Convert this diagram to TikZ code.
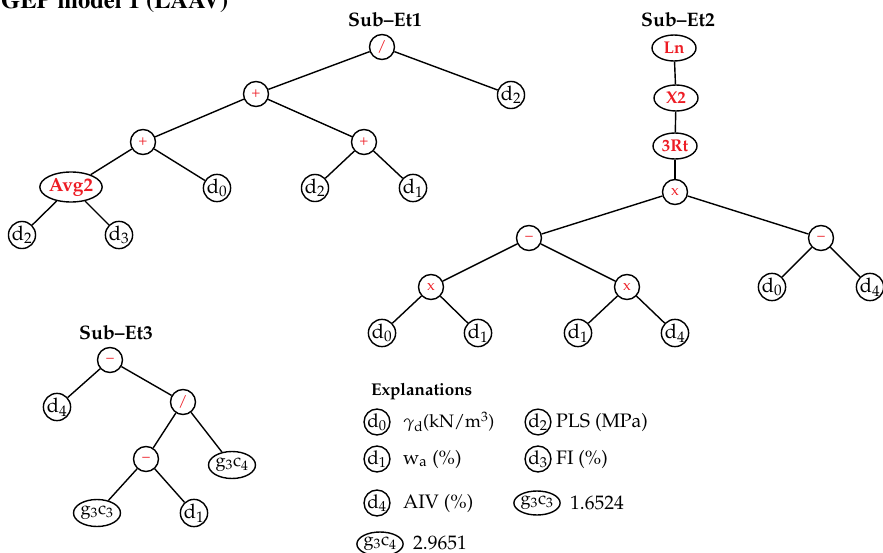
\documentclass[tikz,border=0pt]{standalone}
\usepackage[T1]{fontenc}
\usepackage{mathpazo}
\usetikzlibrary{shapes.geometric}
\definecolor{opred}{RGB}{237,28,36}
\tikzset{
  conn/.style={line width=1.4pt},
  leaf/.style={circle,draw,line width=1.4pt,inner sep=0pt,minimum size=25pt,font=\fontsize{20}{20}\selectfont},
  sleaf/.style={leaf,minimum size=23pt,font=\fontsize{19}{19}\selectfont},
  op/.style={circle,draw,line width=1.4pt,inner sep=0pt,minimum size=25pt,text=opred,font=\fontsize{15}{15}\selectfont},
  fn/.style={ellipse,draw,line width=1.4pt,inner sep=0pt,minimum width=44pt,minimum height=26pt,text=opred,font=\fontsize{17}{17}\selectfont\bfseries},
  cst/.style={ellipse,draw,line width=1.4pt,inner sep=0pt,minimum width=47pt,minimum height=27pt,font=\fontsize{18}{18}\selectfont},
  lab/.style={font=\fontsize{19.5}{19.5}\selectfont\bfseries},
  expl/.style={anchor=west,inner sep=0pt,font=\fontsize{19.5}{19.5}\selectfont},
}
\begin{document}
\begin{tikzpicture}[x=1pt,y=-1pt]
\useasboundingbox (0,0) rectangle (883,553);
% title
\node[anchor=base west,inner sep=0pt,font=\fontfamily{ptm}\fontsize{24.5}{24.5}\selectfont\bfseries] (title) at (1,9) {GEP model 1 (LAAV)};
% Sub-Et1
\node[lab] (t1) at (385,20) {Sub--Et1};
\node[op] (a1) at (382,47) {/};
\node[op] (a2) at (256,94) {+};
\node[leaf] (a3) at (511,95) {d$_2$};
\node[op] (a4) at (143,142) {+};
\node[op] (a5) at (364,142) {+};
\node[fn,minimum width=42pt,minimum height=30pt,font=\fontsize{19}{19}\selectfont\bfseries] (a6) at (71,187) {Avg2};
\node[leaf] (a7) at (217,188) {d$_0$};
\node[leaf] (a8) at (315,188) {d$_2$};
\node[leaf] (a9) at (413,188) {d$_1$};
\node[leaf] (a10) at (22,235) {d$_2$};
\node[leaf] (a11) at (119,235) {d$_3$};
\foreach \p/\c in {a1/a2,a1/a3,a2/a4,a2/a5,a4/a6,a4/a7,a5/a8,a5/a9,a6/a10,a6/a11}
  \draw[conn] (\p) -- (\c);
% Sub-Et2
\node[lab] (t2) at (678,20) {Sub--Et2};
\node[fn] (b1) at (674,48) {Ln};
\node[fn] (b2) at (676,98) {X2};
\node[fn] (b3) at (675,146) {3Rt};
\node[op] (b4) at (675,192) {x};
\node[op] (b5) at (529,238) {--};
\node[op] (b6) at (821,238) {--};
\node[op] (b7) at (431,287) {x};
\node[op] (b8) at (627,287) {x};
\node[leaf] (b9) at (772,287) {d$_0$};
\node[leaf] (b10) at (870,287) {d$_4$};
\node[leaf] (b11) at (382,333) {d$_0$};
\node[leaf] (b12) at (478,333) {d$_1$};
\node[leaf] (b13) at (578,333) {d$_1$};
\node[leaf] (b14) at (675,333) {d$_4$};
\foreach \p/\c in {b1/b2,b2/b3,b3/b4,b4/b5,b4/b6,b5/b7,b5/b8,b6/b9,b6/b10,b7/b11,b7/b12,b8/b13,b8/b14}
  \draw[conn] (\p) -- (\c);
% Sub-Et3
\node[lab] (t3) at (116,333) {Sub--Et3};
\node[op] (c1) at (110,360) {--};
\node[leaf] (c2) at (57,407) {d$_4$};
\node[op] (c3) at (183,402) {/};
\node[op] (c4) at (146,459) {--};
\node[cst] (c5) at (232,465) {g$_3$c$_4$};
\node[cst] (c6) at (97,513) {g$_3$c$_3$};
\node[leaf] (c7) at (194,513) {d$_1$};
\foreach \p/\c in {c1/c2,c1/c3,c3/c4,c3/c5,c4/c6,c4/c7}
  \draw[conn] (\p) -- (\c);
% Explanations
\node[anchor=west,inner sep=0pt,font=\fontsize{17}{17}\selectfont\bfseries] (ex) at (371,392) {Explanations};
\node[sleaf] (l0) at (377,422) {d$_0$};
\node[expl,font=\fontsize{18}{18}\selectfont] (e0) at (403,422) {$\gamma_{\mathrm{d}}$(kN/m$^3$)};
\node[sleaf] (l2) at (538,422) {d$_2$};
\node[expl] (e2) at (556,422) {PLS (MPa)};
\node[sleaf] (l1) at (377,459) {d$_1$};
\node[expl] (e1) at (403,459) {w$_{\mathrm{a}}$ (\%)};
\node[sleaf] (l3) at (538,459) {d$_3$};
\node[expl] (e3) at (556,459) {FI (\%)};
\node[sleaf] (l4) at (377,503) {d$_4$};
\node[expl] (e4) at (403,503) {AIV (\%)};
\node[cst,minimum width=45pt,minimum height=24pt] (lg3) at (537,503) {g$_3$c$_3$};
\node[expl] (eg3) at (570,503) {1.6524};
\node[cst,minimum width=45pt,minimum height=24pt] (lg4) at (380,544) {g$_3$c$_4$};
\node[expl] (eg4) at (413,543) {2.9651};
\end{tikzpicture}
\end{document}
